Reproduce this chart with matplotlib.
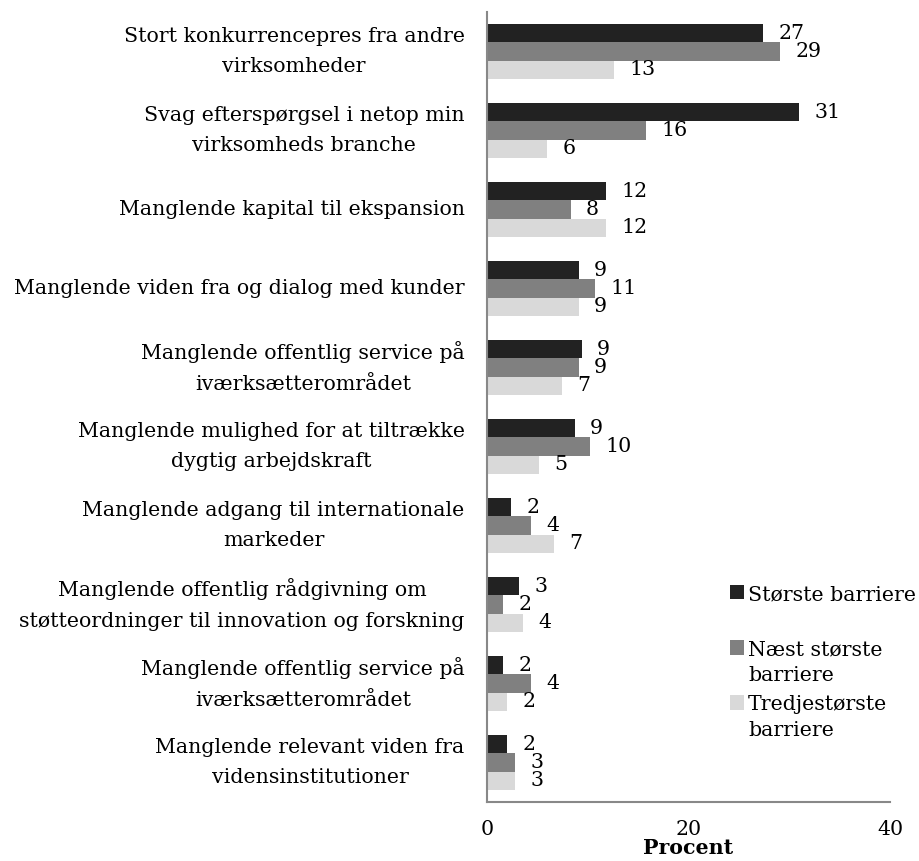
import matplotlib.pyplot as plt
import numpy as np

# Data
categories = [
    'Stort konkurrencepres fra andre\nvirksomheder',
    'Svag efterspørgsel i netop min\nvirksomheds branche',
    'Manglende kapital til ekspansion',
    'Manglende viden fra og dialog med kunder',
    'Manglende offentlig service på\niværksætterområdet',
    'Manglende mulighed for at tiltrække\ndygtig arbejdskraft',
    'Manglende adgang til internationale\nmarkeder',
    'Manglende offentlig rådgivning om\nstøtteordninger til innovation og forskning',
    'Manglende offentlig service på\niværksætterområdet',
    'Manglende relevant viden fra\nvidensinstitutioner',
]
stoerste = [27.4, 31.0, 11.8, 9.1, 9.4, 8.7, 2.4, 3.2, 1.6, 2.0]
naest = [29.1, 15.8, 8.3, 10.7, 9.1, 10.2, 4.4, 1.6, 4.4, 2.8]
tredje = [12.6, 6.0, 11.8, 9.1, 7.4, 5.2, 6.7, 3.6, 2.0, 2.8]
series_names = ['Største barriere', 'Næst største\nbarriere', 'Tredjestørste\nbarriere']
colors = ['#222222', '#808080', '#d9d9d9']

plt.rcParams['font.family'] = ['DejaVu Serif']

fig = plt.figure(figsize=(9.2, 8.61), dpi=100)
ax = fig.add_axes([0.5293, 0.0685, 0.4381, 0.9175])

y = np.arange(len(categories))
h = 0.23
fs = 14.8
bars = []
for i, (vals, col) in enumerate(zip([stoerste, naest, tredje], colors)):
    pos = y + (i - 1) * h
    bars.append(ax.barh(pos, vals, height=h, color=col))
    for p, v in zip(pos, vals):
        ax.annotate(f'{v:.0f}', (v, p), xytext=(11, 0), textcoords='offset points',
                    va='center', ha='left', fontsize=fs)

ax.set_ylim(len(categories) - 0.5, -0.5)
ax.set_xlim(0, 40)
ax.set_xticks([0, 20, 40])
ax.set_yticks(y)
ax.set_yticklabels(categories, fontsize=fs, multialignment='center', linespacing=1.75)
for t in ax.get_yticklabels():
    t.set_va('center')
ax.tick_params(axis='x', length=0, pad=13, labelsize=fs)
ax.tick_params(axis='y', length=0, pad=16)
ax.set_xlabel('Procent', fontsize=fs, fontweight='bold', labelpad=-1)

for s in ['top', 'right']:
    ax.spines[s].set_visible(False)
for s in ['left', 'bottom']:
    ax.spines[s].set_color('#888888')
    ax.spines[s].set_linewidth(1.5)

# every legend entry gets two lines of room, like the original
leg_labels = [series_names[0] + '\n '] + series_names[1:]
leg = fig.legend(bars, leg_labels, loc='upper left', bbox_to_anchor=(0.784, 0.33),
                 frameon=False, fontsize=fs, handlelength=0.7, handleheight=0.7,
                 handletextpad=0.2, labelspacing=0.5, borderaxespad=0)
for t in leg.get_texts():
    t.set_linespacing(1.45)
for col in leg._legend_handle_box.get_children():
    for row in col.get_children():
        row.align = 'top'

fig.savefig('out.png', dpi=100)
